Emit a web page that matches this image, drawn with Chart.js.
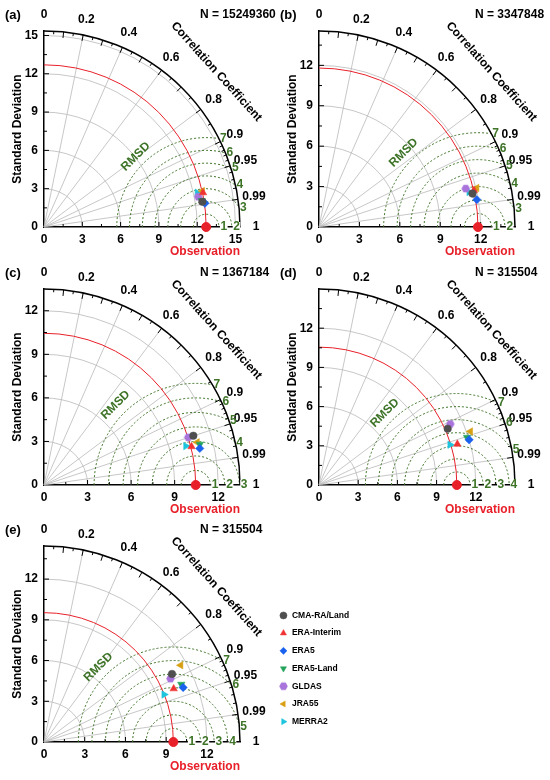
<!DOCTYPE html>
<html>
<head>
<meta charset="utf-8">
<script src="https://cdn.jsdelivr.net/npm/chart.js@4.4.1/dist/chart.umd.min.js"></script>
<style>
  body { margin: 0; background: #fff; }
  #wrap { position: relative; width: 550px; height: 780px; overflow: hidden; background: #fff; }
  #wrap canvas { position: absolute; }
</style>
</head>
<body>
<div id="wrap"></div>
<script>
// ---- data ----
const models = ['CMA-RA/Land', 'ERA-Interim', 'ERA5', 'ERA5-Land', 'GLDAS', 'JRA55', 'MERRA2'];
const panelLabels = ['(a)', '(b)', '(c)', '(d)', '(e)'];
const sampleSizes = ['15249360', '3347848', '1367184', '315504', '315504'];
const obsStd = [12.7, 11.8, 10.45, 10.55, 9.53];
const stdMax = [15.35, 14.55, 13.5, 15.0, 14.44];
const stdTicks = [
  [0, 3, 6, 9, 12, 15],
  [0, 3, 6, 9, 12],
  [0, 3, 6, 9, 12],
  [0, 3, 6, 9, 12],
  [0, 3, 6, 9, 12]
];
const rmsdLevels = [1, 2, 3, 4, 5, 6, 7];
const corrLines = [0.2, 0.4, 0.6, 0.8, 0.9, 0.95, 0.99];
const corrLabels = [0, 0.2, 0.4, 0.6, 0.8, 0.9, 0.95, 0.99, 1];

// standard deviation and correlation of each model (order as in models)
const stdA  = [12.56, 12.74, 12.74, 12.52, 12.31, 12.72, 12.30];
const corrA = [0.9875, 0.9775, 0.9893, 0.9864, 0.9813, 0.9751, 0.9758];
const stdB  = [11.66, 11.82, 11.89, 11.73, 11.26, 12.06, 11.44];
const corrB = [0.9771, 0.9732, 0.9853, 0.9767, 0.9674, 0.9707, 0.9738];
const stdC  = [10.83, 10.50, 11.02, 11.09, 10.46, 10.95, 10.13];
const corrC = [0.9497, 0.9678, 0.9735, 0.9676, 0.9495, 0.9633, 0.9644];
const stdD  = [10.75, 11.04, 12.00, 11.90, 11.08, 12.29, 10.49];
const corrD = [0.9161, 0.9590, 0.9575, 0.9521, 0.9069, 0.9427, 0.9559];
const stdE  = [10.68, 10.33, 11.01, 10.97, 10.42, 11.55, 9.51];
const corrE = [0.883, 0.925, 0.931, 0.922, 0.894, 0.872, 0.930];
const panelStd = [stdA, stdB, stdC, stdD, stdE];
const panelCorr = [corrA, corrB, corrC, corrD, corrE];

// ---- styles ----
const FONT = '"Liberation Sans", Arial, Helvetica, sans-serif';
const GREEN = '#3d7326';
const RED = '#e8202a';

function hexagon(color, r) {
  const c = document.createElement('canvas');
  c.width = c.height = Math.ceil(r * 2 + 2);
  const g = c.getContext('2d');
  g.fillStyle = color;
  g.beginPath();
  for (let i = 0; i < 6; i++) {
    const a = i * Math.PI / 3;
    g.lineTo(c.width / 2 + r * Math.cos(a), c.height / 2 + r * Math.sin(a));
  }
  g.closePath();
  g.fill();
  return c;
}

const markerColors = ['#4f4f4f', '#f03232', '#1a62ee', '#22a35a', '#a874dc', '#d6a012', '#1cc4dc'];
const markerStyles = ['circle', 'triangle', 'rectRot', 'triangle', hexagon('#a874dc', 4.3), 'triangle', 'triangle'];
const markerRot = [0, 0, 0, 180, 0, 270, 90];
const markerSize = [3.8, 4.3, 4.2, 4.3, 4.3, 4.3, 4.3];

function bold(size) { return { family: FONT, size: size, weight: 'bold' }; }
function css(size) { return 'bold ' + size + 'px ' + FONT; }

function modelDatasets(std, corr) {
  return models.map((m, i) => ({
    label: m,
    data: std ? [{ x: std[i] * corr[i], y: std[i] * Math.sqrt(1 - corr[i] * corr[i]) }] : [],
    pointStyle: markerStyles[i],
    pointRotation: markerRot[i],
    pointRadius: markerSize[i],
    backgroundColor: markerColors[i],
    borderColor: markerColors[i],
    pointBorderWidth: 0.5,
    showLine: false,
    clip: false
  }));
}

// ---- Taylor diagram decorations ----
const taylorPlugin = {
  id: 'taylor',
  beforeDatasetsDraw(chart, args, opts) {
    const i = opts.idx;
    const { ctx, scales: { x, y } } = chart;
    const ox = x.getPixelForValue(0), oy = y.getPixelForValue(0);
    const u = x.getPixelForValue(1) - ox;
    const rmax = stdMax[i], obs = obsStd[i];
    const R = rmax * u;
    ctx.save();

    // grey std circles and correlation rays
    ctx.strokeStyle = '#b9b9b9';
    ctx.lineWidth = 0.8;
    stdTicks[i].forEach(v => {
      if (v > 0 && v < rmax - 0.1) {
        ctx.beginPath();
        ctx.arc(ox, oy, v * u, -Math.PI / 2, 0);
        ctx.stroke();
      }
    });
    corrLines.forEach(c => {
      const a = Math.acos(c);
      ctx.beginPath();
      ctx.moveTo(ox, oy);
      ctx.lineTo(ox + R * Math.cos(a), oy - R * Math.sin(a));
      ctx.stroke();
    });

    // RMSD arcs round the observation, clipped by the outer arc
    const cx = x.getPixelForValue(obs);
    ctx.strokeStyle = GREEN;
    ctx.lineWidth = 1;
    ctx.setLineDash([2, 2]);
    rmsdLevels.forEach(r => {
      const c0 = (rmax * rmax - obs * obs - r * r) / (2 * obs * r);
      const phi0 = c0 >= 1 ? 0 : Math.acos(Math.max(-1, c0));
      ctx.beginPath();
      ctx.arc(cx, oy, r * u, -Math.PI, -phi0);
      ctx.stroke();
    });
    ctx.setLineDash([]);

    // observed std arc
    ctx.strokeStyle = RED;
    ctx.lineWidth = 1;
    ctx.beginPath();
    ctx.arc(ox, oy, obs * u, -Math.PI / 2, 0);
    ctx.stroke();

    // outer arc with inward ticks
    ctx.strokeStyle = '#000';
    ctx.lineWidth = 1.5;
    ctx.beginPath();
    ctx.arc(ox, oy, R, -Math.PI / 2, 0);
    ctx.stroke();
    ctx.lineWidth = 1;
    const arcTicks = [];
    for (let k = 1; k <= 9; k++) arcTicks.push([k / 10, 6]);
    for (let k = 1; k <= 17; k += 2) arcTicks.push([k / 20, 3]);
    [0.91, 0.92, 0.93, 0.94, 0.96, 0.97, 0.98].forEach(c => arcTicks.push([c, 3]));
    arcTicks.push([0.95, 6], [0.99, 6]);
    arcTicks.forEach(([c, len]) => {
      const a = Math.acos(c);
      ctx.beginPath();
      ctx.moveTo(ox + R * Math.cos(a), oy - R * Math.sin(a));
      ctx.lineTo(ox + (R - len) * Math.cos(a), oy - (R - len) * Math.sin(a));
      ctx.stroke();
    });

    // inward ticks on the two std axes
    for (let v = 1.5; v < rmax; v += 1.5) {
      const len = Math.abs(v % 3) < 0.01 ? 5 : 3;
      ctx.beginPath();
      ctx.moveTo(ox, oy - v * u); ctx.lineTo(ox + len, oy - v * u);
      ctx.moveTo(ox + v * u, oy); ctx.lineTo(ox + v * u, oy - len);
      ctx.stroke();
    }
    ctx.restore();
  },
  afterDraw(chart, args, opts) {
    const i = opts.idx;
    const { ctx, scales: { x, y } } = chart;
    const ox = x.getPixelForValue(0), oy = y.getPixelForValue(0);
    const u = x.getPixelForValue(1) - ox;
    const rmax = stdMax[i], obs = obsStd[i];
    const R = rmax * u;
    ctx.save();
    ctx.textBaseline = 'middle';

    // correlation labels
    ctx.fillStyle = '#000';
    ctx.font = css(12);
    ctx.textAlign = 'center';
    corrLabels.forEach(c => {
      const a = Math.acos(c);
      ctx.fillText(String(c), ox + (R + 16) * Math.cos(a), oy - (R + 16) * Math.sin(a));
    });
    const ta = 42 * Math.PI / 180;
    ctx.save();
    ctx.translate(ox + (R + 36) * Math.cos(ta), oy - (R + 36) * Math.sin(ta));
    ctx.rotate(Math.PI / 2 - ta);
    ctx.fillText('Correlation Coefficient', 0, 0);
    ctx.restore();

    // panel letter and sample size
    ctx.textAlign = 'left';
    ctx.font = css(13);
    ctx.fillText(panelLabels[i], 5, 15);
    ctx.font = css(12);
    ctx.fillText('N = ' + sampleSizes[i], 200, 15);

    // RMSD labels
    const cx = x.getPixelForValue(obs);
    ctx.font = css(12);
    ctx.fillStyle = GREEN;
    rmsdLevels.forEach(r => {
      const c0 = (rmax * rmax - obs * obs - r * r) / (2 * obs * r);
      const txt = String(r);
      if (c0 >= 1) {
        const px = cx + r * u + 1.5;
        const w = ctx.measureText(txt).width;
        ctx.fillStyle = '#fff';
        ctx.fillRect(px - 0.5, oy - 5, w + 1, 10);
        ctx.fillStyle = GREEN;
        ctx.fillText(txt, px, oy);
      } else {
        const phi0 = Math.acos(c0);
        ctx.fillText(txt, cx + r * u * Math.cos(phi0) + 1, oy - r * u * Math.sin(phi0));
      }
    });
    const ra = 135 * Math.PI / 180, rd = 7.8 * u;
    ctx.save();
    ctx.translate(cx + rd * Math.cos(ra), oy - rd * Math.sin(ra));
    ctx.rotate(-(ra - Math.PI / 2));
    ctx.textAlign = 'center';
    ctx.fillText('RMSD', 0, 0);
    ctx.restore();
    ctx.restore();
  }
};

// ---- build the five panels ----
const wrap = document.getElementById('wrap');
const panelPos = [[0, 0], [275, 0], [0, 258], [275, 258], [0, 515]];
const CW = 280, CH = 265, OX = 44, OY = 227, SIDE = 196, YW = 38, XH = 36;

function addCanvas(left, top, w, h) {
  const c = document.createElement('canvas');
  c.width = w; c.height = h;
  c.style.left = left + 'px'; c.style.top = top + 'px';
  wrap.appendChild(c);
  return c;
}

panelPos.forEach(([left, top], i) => {
  const canvas = addCanvas(left, top, CW, CH);
  const datasets = modelDatasets(panelStd[i], panelCorr[i]);
  datasets.push({
    label: 'Observation',
    data: [{ x: obsStd[i], y: 0 }],
    pointStyle: 'circle',
    pointRadius: 4.5,
    backgroundColor: RED,
    borderColor: RED,
    showLine: false,
    clip: false
  });
  const axis = (title, extra) => Object.assign({
    type: 'linear',
    min: 0,
    max: stdMax[i],
    afterBuildTicks: s => { s.ticks = stdTicks[i].map(v => ({ value: v })); },
    grid: { display: false, drawTicks: false },
    border: { display: true, color: '#000', width: 1.5 },
    ticks: { font: bold(12), color: '#000', autoSkip: false, maxRotation: 0 },
    title: title
  }, extra);
  new Chart(canvas, {
    type: 'scatter',
    data: { datasets: datasets },
    options: {
      responsive: false,
      animation: false,
      layout: { padding: { left: OX - YW, top: OY - SIDE, right: CW - OX - SIDE, bottom: CH - OY - XH } },
      plugins: { legend: { display: false }, tooltip: { enabled: false }, taylor: { idx: i } },
      scales: {
        x: axis({ display: true, text: 'Observation', color: RED, font: bold(12), align: 'end', padding: { top: 0, bottom: 4 } },
          { afterFit: s => { s.height = XH; }, ticks: { font: bold(12), color: '#000', padding: 5, autoSkip: false, maxRotation: 0 } }),
        y: axis({ display: true, text: 'Standard Deviation', color: '#000', font: bold(12), padding: { top: 4, bottom: 4 } },
          { afterFit: s => { s.width = YW; }, ticks: { font: bold(12), color: '#000', padding: 6, autoSkip: false } })
      }
    },
    plugins: [taylorPlugin]
  });
});

// ---- legend ----
const legendCanvas = addCanvas(270, 602, 260, 140);
new Chart(legendCanvas, {
  type: 'scatter',
  data: { datasets: modelDatasets(null, null) },
  options: {
    responsive: false,
    animation: false,
    layout: { padding: 0 },
    scales: { x: { display: false }, y: { display: false } },
    plugins: {
      tooltip: { enabled: false },
      legend: {
        position: 'left',
        align: 'start',
        labels: { usePointStyle: true, boxWidth: 8.5, boxHeight: 5, padding: 9.2, font: bold(8.5), color: '#000' }
      }
    }
  }
});
</script>
</body>
</html>
